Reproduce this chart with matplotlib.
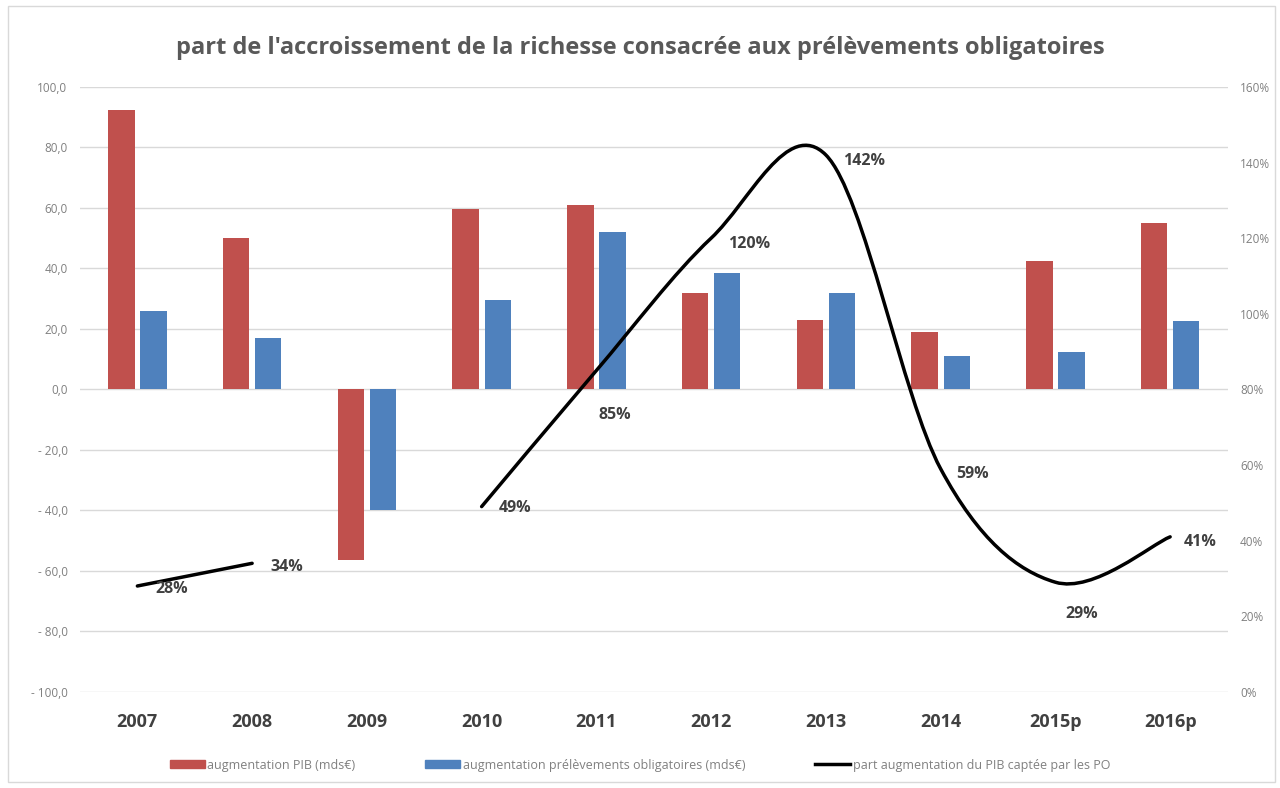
import matplotlib
matplotlib.use("Agg")
import matplotlib.pyplot as plt
from matplotlib.path import Path
from matplotlib.patches import PathPatch, Rectangle
from matplotlib.lines import Line2D
from matplotlib.patches import Patch

# données
annees = ["2007", "2008", "2009", "2010", "2011", "2012", "2013", "2014", "2015p", "2016p"]
pib = [92.5, 50.0, -56.5, 59.5, 61.0, 32.0, 23.0, 19.0, 42.5, 55.0]
prelevements = [26.0, 17.0, -40.0, 29.5, 52.0, 38.5, 32.0, 11.0, 12.5, 22.5]
part_po = [28, 34, None, 49, 85, 120, 142, 59, 29, 41]

ROUGE = "#c0504d"
BLEU = "#4f81bd"
GRIS = "#808080"
FONCE = "#404040"

plt.rcParams["font.family"] = ["Open Sans", "DejaVu Sans"]

fig = plt.figure(figsize=(12.8, 7.88), dpi=100)
fig.patches.append(Rectangle((0.006, 0.008), 0.99, 0.984, transform=fig.transFigure,
                             fill=False, edgecolor="#d9d9d9", lw=1))

ax = fig.add_axes([0.0625, 0.122, 0.8965, 0.7677])
ax2 = ax.twinx()

x = list(range(len(annees)))
w = 0.23
ax.bar([i - 0.14 for i in x], pib, width=w, color=ROUGE, zorder=2)
ax.bar([i + 0.14 for i in x], prelevements, width=w, color=BLEU, zorder=2)

ax.set_xlim(-0.5, 9.5)
ax.set_ylim(-100, 100)
ax.set_yticks(range(-100, 101, 20))
ax.set_yticklabels([("- " if v < 0 else "") + f"{abs(v)},0" for v in range(-100, 101, 20)])
ax.grid(axis="y", color="#d9d9d9", lw=1, zorder=0)
ax.set_axisbelow(True)
ax.set_xticks(x)
ax.set_xticklabels(annees, fontsize=13, fontweight="bold", color=FONCE)
ax.tick_params(axis="x", length=0, pad=15)
ax.tick_params(axis="y", length=0, labelsize=8.5, labelcolor=GRIS, pad=9)
for s in ax.spines.values():
    s.set_visible(False)

ax2.set_ylim(0, 160)
ax2.set_yticks(range(0, 161, 20))
ax2.set_yticklabels([f"{v}%" for v in range(0, 161, 20)])
ax2.tick_params(axis="y", length=0, labelsize=8.5, labelcolor=GRIS, pad=9)
for s in ax2.spines.values():
    s.set_visible(False)


# courbe lissée (façon Excel) par morceaux contigus
def lisse(points):
    verts = [points[0]]
    codes = [Path.MOVETO]
    n = len(points)
    for i in range(n - 1):
        p0 = points[max(i - 1, 0)]
        p1 = points[i]
        p2 = points[i + 1]
        p3 = points[min(i + 2, n - 1)]
        c1 = (p1[0] + (p2[0] - p0[0]) / 6, p1[1] + (p2[1] - p0[1]) / 6)
        c2 = (p2[0] - (p3[0] - p1[0]) / 6, p2[1] - (p3[1] - p1[1]) / 6)
        verts += [c1, c2, p2]
        codes += [Path.CURVE4] * 3
    return Path(verts, codes)


morceau = []
for i, v in enumerate(part_po + [None]):
    if v is None:
        if len(morceau) > 1:
            ax2.add_patch(PathPatch(lisse(morceau), fill=False, edgecolor="black",
                                    lw=2.5, capstyle="round", zorder=3))
        morceau = []
    else:
        morceau.append((i, v))

# étiquettes de données (décalage en points)
decalages = [(13, -2), (13, -3), None, (12, -1), (1.5, -32), (12, -4),
             (12, -4), (11, -4), (7, -23), (10, -4)]
for i, v in enumerate(part_po):
    if v is None:
        continue
    ax2.annotate(f"{v}%", (i, v), xytext=decalages[i], textcoords="offset points",
                 fontsize=11.5, fontweight="bold", color=FONCE, ha="left", va="center",
                 zorder=4)

fig.text(0.5, 0.939, "part de l'accroissement de la richesse consacrée aux prélèvements obligatoires",
         ha="center", va="center", fontsize=17, fontweight="bold", color="#595959")

handles = [Patch(color=ROUGE), Patch(color=BLEU), Line2D([], [], color="black", lw=2.5)]
labels = ["augmentation PIB (mds€)", "augmentation prélèvements obligatoires (mds€)",
          "part augmentation du PIB captée par les PO"]
fig.legend(handles, labels, loc="center", bbox_to_anchor=(0.5, 0.029), ncol=3, frameon=False,
           fontsize=9, labelcolor=GRIS, handlelength=2.8, handleheight=0.65,
           handletextpad=0.2, columnspacing=5.6)

fig.savefig("out.png", dpi=100)
